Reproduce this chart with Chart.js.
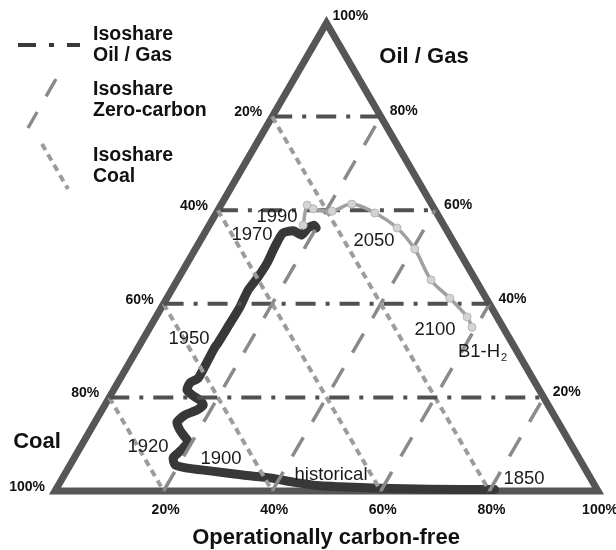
<!DOCTYPE html>
<html><head><meta charset="utf-8">
<script src="https://cdn.jsdelivr.net/npm/chart.js@4.4.1/dist/chart.umd.min.js"></script>
<style>html,body{margin:0;padding:0;background:#fff}#wrap{width:616px;height:550px;position:relative}</style>
</head><body><div id="wrap"><canvas id="c"></canvas></div>
<script>
// ---- data (percent shares) ----
const tickPct = [20, 40, 60, 80];
const tickLabelPct = [20, 40, 60, 80, 100];
// historical path 1850 -> 1990 : operationally carbon-free share, oil/gas share (coal = rest)
const histCarbonFree = [80.8, 68.9, 59.5, 52.1, 48.3, 42.9, 38.2, 32.9, 26.4, 21.9, 19.3, 18.2, 18.6, 19.0, 19.3, 18.2, 16.5, 15.1, 15.8, 17.5, 18.1, 17.0, 15.0, 13.5, 13.3, 14.3, 14.3, 14.2, 14.1, 14.2, 14.3, 14.4, 14.1, 14.5, 14.7, 14.4, 14.4, 16.1, 18.1, 18.5, 19.3, 20.0];
const histOilGas     = [0.3, 0.4, 0.6, 0.9, 1.1, 1.9, 2.8, 3.4, 4.3, 4.9, 5.6, 7.1, 8.1, 9.2, 10.5, 11.5, 13.0, 14.7, 16.2, 17.3, 18.4, 19.4, 20.5, 21.6, 23.1, 24.1, 25.9, 28.0, 30.8, 31.6, 35.0, 39.3, 42.9, 45.5, 48.7, 52.1, 55.1, 55.6, 54.7, 56.2, 56.8, 56.2];
// B1-H2 scenario 1990 -> 2100
const b1CarbonFree = [17.3, 15.9, 17.4, 21.1, 24.0, 29.2, 34.9, 40.4, 46.7, 52.1, 57.3, 59.3];
const b1OilGas     = [56.8, 61.1, 60.3, 59.8, 61.3, 59.4, 56.2, 51.7, 45.1, 41.2, 37.2, 35.0];
const annotTexts = ['1850', 'historical', '1900', '1920', '1950', '1970', '1990', '2050', '2100'];

// ternary -> cartesian (unit triangle)
const toXY = (c, o) => ({x: (c + o / 2) / 100, y: o / 100});

const FONT = '"Liberation Sans", Arial, Helvetica, sans-serif';

function seg(p1, p2, style, order) {
  return Object.assign({data: [toXY(p1[0], p1[1]), toXY(p2[0], p2[1])], showLine: true, pointRadius: 0,
    fill: false, clip: false, borderCapStyle: 'butt', order: order}, style);
}

const datasets = [];
// B1 scenario (top)
datasets.push({
  data: b1CarbonFree.map((c, i) => toXY(c, b1OilGas[i])),
  showLine: true, clip: false, order: 0, tension: 0.35,
  borderColor: '#a0a0a0', borderWidth: 3.5,
  pointRadius: 4, pointBackgroundColor: '#d4d4d4', pointBorderColor: '#b4b4b4', pointBorderWidth: 1
});
// isoshare grid lines
const oilStyle = {borderColor: '#505050', borderWidth: 4, borderDash: [20, 10, 4, 10]};
const zcStyle = {borderColor: '#8a8a8a', borderWidth: 3.5, borderDash: [22, 18]};
const coalStyle = {borderColor: '#9c9c9c', borderWidth: 4, borderDash: [7, 5]};
tickPct.forEach(t => {
  datasets.push(seg([0, t], [100 - t, t], oilStyle, 1));
  datasets.push(seg([t, 0], [t, 100 - t], zcStyle, 1));
  datasets.push(seg([0, 100 - t], [100 - t, 0], coalStyle, 1));
});
// historical
datasets.push({
  data: histCarbonFree.map((c, i) => toXY(c, histOilGas[i])),
  showLine: true, clip: false, order: 2, tension: 0.2,
  borderColor: '#383838', borderWidth: 9, borderJoinStyle: 'round', borderCapStyle: 'round', pointRadius: 0
});
// triangle frame
datasets.push({
  data: [toXY(0, 0), toXY(100, 0), toXY(0, 100), toXY(0, 0), toXY(100, 0)],
  showLine: true, clip: false, order: 3, borderColor: '#565656', borderWidth: 7,
  borderJoinStyle: 'miter', pointRadius: 0
});

const textPlugin = {
  id: 'ternaryText',
  afterDraw(chart) {
    const ctx = chart.ctx, xs = chart.scales.x, ys = chart.scales.y;
    const P = (c, o) => [xs.getPixelForValue((c + o / 2) / 100), ys.getPixelForValue(o / 100)];
    ctx.save();
    ctx.fillStyle = '#111';
    ctx.textBaseline = 'middle';
    // tick labels
    ctx.font = 'bold 14px ' + FONT;
    ctx.textAlign = 'right';
    tickLabelPct.forEach(t => { const p = P(0, 100 - t); ctx.fillText(t + '%', p[0] - 10, p[1] - 4); });
    ctx.textAlign = 'left';
    tickLabelPct.forEach(t => { const p = P(100 - t, t); ctx.fillText(t + '%', p[0] + (t === 100 ? 6 : 9), p[1] - (t === 100 ? 7 : 5)); });
    ctx.textAlign = 'center';
    tickLabelPct.forEach(t => { const p = P(t, 0); ctx.fillText(t + '%', p[0] + 2, p[1] + 19); });
    // axis titles
    ctx.font = 'bold 22px ' + FONT;
    ctx.fillText('Oil / Gas', 424, 57);
    ctx.fillText('Coal', 37, 442);
    ctx.fillText('Operationally carbon-free', 326, 538);
    // annotations
    ctx.fillStyle = '#1a1a1a';
    ctx.font = '18.5px ' + FONT;
    const anchors = [[524, 479], [331, 475], [221, 459], [148, 447], [189, 339], [252, 235], [277, 217], [374, 241], [435, 330]];
    annotTexts.forEach((s, i) => ctx.fillText(s, anchors[i][0], anchors[i][1]));
    ctx.fillText('B1-H', 479, 352);
    ctx.font = '11px ' + FONT;
    ctx.textAlign = 'left';
    ctx.fillText('2', 501, 358);
    // legend
    ctx.font = 'bold 19.5px ' + FONT;
    ctx.fillStyle = '#111';
    ctx.fillText('Isoshare', 93, 35);
    ctx.fillText('Oil / Gas', 93, 56);
    ctx.fillText('Isoshare', 93, 90);
    ctx.fillText('Zero-carbon', 93, 111);
    ctx.fillText('Isoshare', 93, 156);
    ctx.fillText('Coal', 93, 177);
    ctx.lineCap = 'butt';
    ctx.strokeStyle = '#3a3a3a'; ctx.lineWidth = 4; ctx.setLineDash([18, 13, 5, 13]);
    ctx.beginPath(); ctx.moveTo(18, 45); ctx.lineTo(80, 45); ctx.stroke();
    ctx.strokeStyle = '#8a8a8a'; ctx.lineWidth = 3.5; ctx.setLineDash([20, 18]);
    ctx.beginPath(); ctx.moveTo(56, 79); ctx.lineTo(28, 128); ctx.stroke();
    ctx.strokeStyle = '#9c9c9c'; ctx.lineWidth = 4; ctx.setLineDash([7, 5]);
    ctx.beginPath(); ctx.moveTo(42, 144); ctx.lineTo(68, 189); ctx.stroke();
    ctx.restore();
  }
};

new Chart(document.getElementById('c'), {
  type: 'scatter',
  data: {datasets: datasets},
  options: {
    responsive: true, maintainAspectRatio: false, animation: false, events: [],
    layout: {padding: {left: 55, right: 18, top: 23, bottom: 59}},
    scales: {
      x: {type: 'linear', min: 0, max: 1, display: false},
      y: {type: 'linear', min: 0, max: 1, display: false}
    },
    plugins: {legend: {display: false}, tooltip: {enabled: false}}
  },
  plugins: [textPlugin]
});
</script>
</body></html>
